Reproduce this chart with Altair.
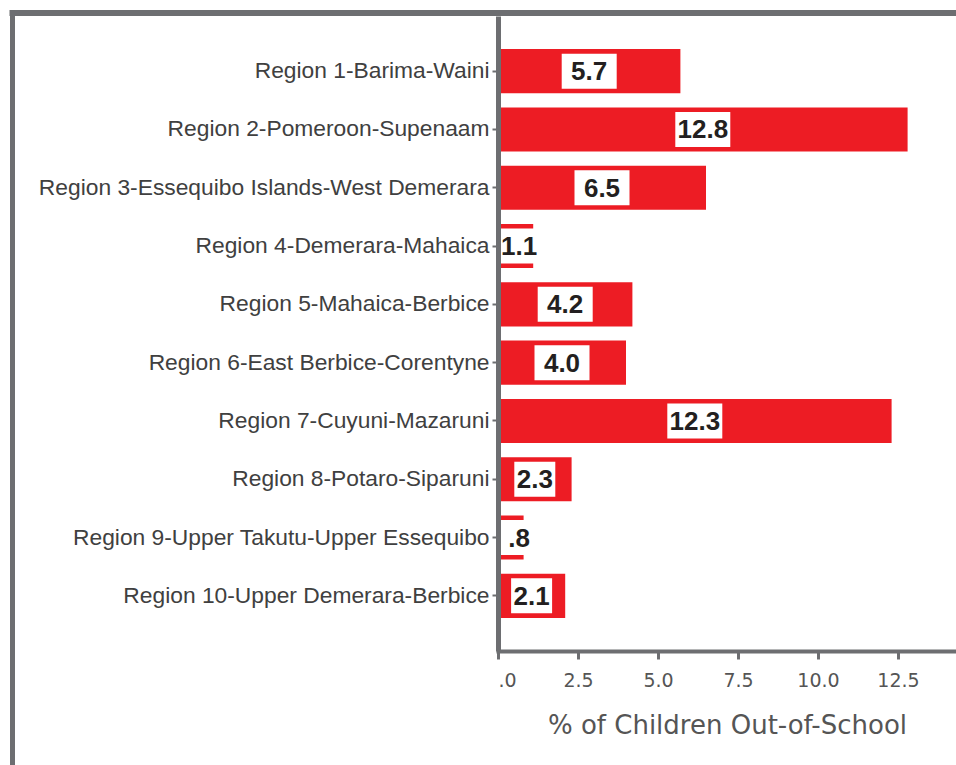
import altair as alt
import pandas as pd

regions = [
    "Region 1-Barima-Waini",
    "Region 2-Pomeroon-Supenaam",
    "Region 3-Essequibo Islands-West Demerara",
    "Region 4-Demerara-Mahaica",
    "Region 5-Mahaica-Berbice",
    "Region 6-East Berbice-Corentyne",
    "Region 7-Cuyuni-Mazaruni",
    "Region 8-Potaro-Siparuni",
    "Region 9-Upper Takutu-Upper Essequibo",
    "Region 10-Upper Demerara-Berbice",
]
values = [5.7, 12.8, 6.5, 1.1, 4.2, 4.0, 12.3, 2.3, 0.8, 2.1]
x_ticks = [0, 2.5, 5.0, 7.5, 10.0, 12.5]

df = pd.DataFrame({"region": regions, "v": values})

RED = "#ed1c24"
GRAY = "#6d6e71"

W, H = 458, 635

xscale = alt.Scale(domain=[0, W / 32], nice=False, zero=True)
yscale = alt.Scale(domain=regions, paddingInner=0.243, paddingOuter=0.568)

base = alt.Chart(df)

bars = base.mark_bar(color=RED).encode(
    x=alt.X(
        "v:Q",
        scale=xscale,
        title="% of Children Out-of-School",
        axis=alt.Axis(
            values=x_ticks,
            labelExpr="datum.value == 0 ? '.0' : format(datum.value, '.1f')",
            grid=False,
            domainColor=GRAY,
            domainWidth=4,
            domainCap="square",
            tickColor=GRAY,
            tickWidth=3,
            tickSize=8,
            labelFont="DejaVu Sans",
            labelFontSize=19,
            labelColor="#555555",
            labelPadding=12,
            titleFont="DejaVu Sans",
            titleFontSize=26,
            titleFontWeight="normal",
            titleColor="#555555",
            titlePadding=22,
            zindex=1,
        ),
    ),
    y=alt.Y(
        "region:N",
        scale=yscale,
        sort=None,
        title=None,
        axis=alt.Axis(
            grid=False,
            domainColor=GRAY,
            domainWidth=5,
            tickColor=GRAY,
            tickWidth=2,
            tickSize=6,
            labelFont="Liberation Sans",
            labelFontSize=22.8,
            labelColor="#404040",
            labelPadding=3,
            labelLimit=700,
            zindex=1,
        ),
    ),
)

boxed = base.transform_calculate(
    xc="datum.v >= 3 ? datum.v / 2 : max(datum.v / 2, 0.66)",
    bw="datum.v >= 3 ? 55 : 41",
    lab="datum.v < 1 ? substring(format(datum.v, '.1f'), 1) : format(datum.v, '.1f')",
)

boxes = boxed.mark_tick(orient="horizontal", thickness=35, color="white", opacity=1).encode(
    x=alt.X("xc:Q", scale=xscale),
    y=alt.Y("region:N", scale=yscale, sort=None),
    size=alt.Size("bw:Q", scale=None, legend=None),
)

labels = boxed.mark_text(
    font="Liberation Sans",
    fontSize=26,
    fontWeight="bold",
    color="#231f20",
    align="center",
    baseline="middle",
    dy=1,
).encode(
    x=alt.X("xc:Q", scale=xscale),
    y=alt.Y("region:N", scale=yscale, sort=None),
    text="lab:N",
)

one = pd.DataFrame({"a": [0]})
frame_top = alt.Chart(one).mark_rule(color=GRAY, strokeWidth=6, strokeCap="square").encode(
    x=alt.value(-485.5), x2=alt.value(W + 5), y=alt.value(-3)
)
frame_left = alt.Chart(one).mark_rule(color=GRAY, strokeWidth=5, strokeCap="square").encode(
    x=alt.value(-485.5), y=alt.value(-3), y2=alt.value(760)
)

chart = (
    alt.layer(bars, boxes, labels, frame_top, frame_left)
    .properties(
        width=W,
        height=H,
        autosize=alt.AutoSizeParams(type="none"),
        padding={"left": 498, "top": 16, "right": 0, "bottom": 114},
        background="white",
    )
    .configure_view(stroke=None)
)

chart.save("out.html", embed_options={"renderer": "svg", "actions": False})
